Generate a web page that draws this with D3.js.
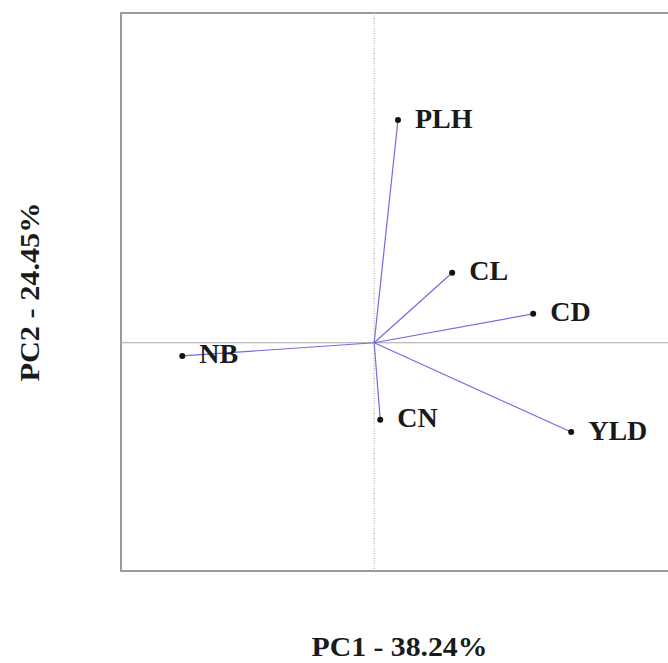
<!DOCTYPE html>
<html><head><meta charset="utf-8">
<script src="https://cdn.jsdelivr.net/npm/d3@7"></script>
<style>body{margin:0;background:#fff;}svg{display:block;}</style>
</head><body>
<script>
const variables = ["PLH", "CL", "CD", "NB", "CN", "YLD"];
const pc1 = [0.047, 0.154, 0.314, -0.379, 0.012, 0.389];
const pc2 = [0.439, 0.138, 0.057, -0.026, -0.152, -0.176];
const xTitle = "PC1 - 38.24%";
const yTitle = "PC2 - 24.45%";

const W = 668, H = 663;
const svg = d3.select("body").append("svg").attr("width", W).attr("height", H);
const x = d3.scaleLinear().domain([-0.5, 0.6]).range([121, 678]);
const y = d3.scaleLinear().domain([-0.45, 0.65]).range([571, 13]);
const font = "'Liberation Serif','Times New Roman',serif";

// box
svg.append("rect").attr("x", x(-0.5)).attr("y", y(0.65))
  .attr("width", x(0.6) - x(-0.5)).attr("height", y(-0.45) - y(0.65))
  .attr("fill", "none").attr("stroke", "#9a9a9a").attr("stroke-width", 2);
// reference lines
svg.append("line").attr("x1", x(-0.5)).attr("x2", x(0.6)).attr("y1", y(0)).attr("y2", y(0))
  .attr("stroke", "#a8a8a8").attr("stroke-width", 1.2);
svg.append("line").attr("x1", x(0)).attr("x2", x(0)).attr("y1", y(0.65)).attr("y2", y(-0.45))
  .attr("stroke", "#b0b0b0").attr("stroke-width", 1.2).attr("stroke-dasharray", "1,1.5");

const data = variables.map((v, i) => ({name: v, px: pc1[i], py: pc2[i]}));
svg.selectAll("line.vec").data(data).enter().append("line").attr("class", "vec")
  .attr("x1", x(0)).attr("y1", y(0)).attr("x2", d => x(d.px)).attr("y2", d => y(d.py))
  .attr("stroke", "#6f6fe0").attr("stroke-width", 1.2);
svg.selectAll("circle").data(data).enter().append("circle")
  .attr("cx", d => x(d.px)).attr("cy", d => y(d.py)).attr("r", 3).attr("fill", "#111");
svg.selectAll("text.lab").data(data).enter().append("text").attr("class", "lab")
  .attr("x", d => x(d.px) + 17).attr("y", d => y(d.py) - 2)
  .attr("dominant-baseline", "central")
  .attr("font-family", font).attr("font-weight", "bold").attr("font-size", 28)
  .attr("fill", "#1a1a1a").text(d => d.name);

svg.append("text").attr("x", (x(-0.5) + x(0.6)) / 2).attr("y", 656)
  .attr("text-anchor", "middle").attr("font-family", font).attr("font-weight", "bold")
  .attr("font-size", 27).attr("textLength", 176).attr("lengthAdjust", "spacingAndGlyphs")
  .attr("fill", "#1a1a1a").text(xTitle);
svg.append("text").attr("transform", `translate(39,${(y(0.65) + y(-0.45)) / 2}) rotate(-90)`)
  .attr("text-anchor", "middle").attr("font-family", font).attr("font-weight", "bold")
  .attr("font-size", 27).attr("textLength", 179).attr("lengthAdjust", "spacingAndGlyphs")
  .attr("fill", "#1a1a1a").text(yTitle);
</script>
</body></html>
